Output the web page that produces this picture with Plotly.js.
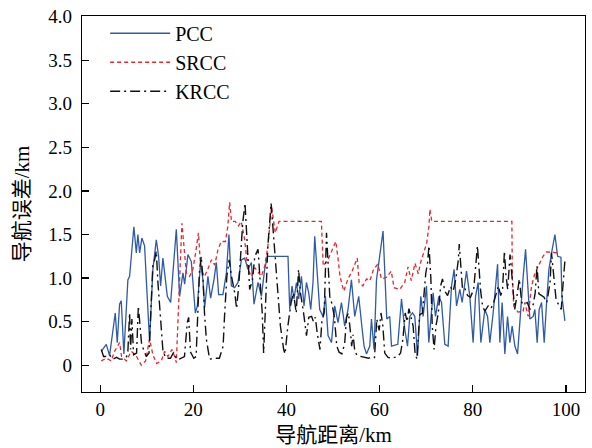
<!DOCTYPE html>
<html>
<head>
<meta charset="utf-8">
<script src="https://cdn.plot.ly/plotly-3.0.1.min.js"></script>
<style>html,body{margin:0;padding:0;background:#fff;}#chart{width:592px;height:448px;}</style>
</head>
<body>
<div id="chart"></div>
<script>
// PCC (blue, solid)
const pccX = [0.24,1.31,2.02,3.24,3.67,4.17,4.53,5.09,5.95,6.32,7.24,7.76,8.10,8.47,8.96,9.54,9.91,10.61,11.32,12.05,12.55,12.98,13.47,13.99,14.42,15.13,15.62,16.35,17.06,17.77,18.14,18.84,19.57,20.43,20.86,21.57,22.07,22.43,23.14,23.72,24.43,24.95,25.44,26.36,27.10,27.65,28.17,28.88,29.59,30.32,31.03,31.74,32.47,33.03,33.89,34.62,35.32,35.90,40.33,40.70,41.19,41.62,42.14,42.63,43.21,43.77,44.29,44.78,45.21,45.70,46.07,46.65,47.14,47.85,48.37,48.93,49.66,50.36,51.07,51.81,52.51,53.22,53.95,54.66,55.52,56.10,56.66,57.18,57.89,58.25,58.81,59.33,60.03,60.74,61.54,62.18,62.55,63.90,64.70,65.41,65.99,66.48,67.06,67.56,68.14,68.84,69.34,70.07,70.56,71.49,72.00,72.71,73.29,74.00,74.71,75.44,76.00,76.52,77.22,77.72,78.66,79.37,80.08,80.60,81.16,81.74,82.60,83.18,83.67,84.38,85.33,85.82,86.31,86.89,87.47,87.97,88.46,89.04,89.62,90.33,90.83,91.34,91.90,92.26,92.97,93.34,93.83,94.26,94.78,95.34,95.85,96.35,97.06,97.64,98.22,98.93,99.14,99.78];
const pccY = [0.16,0.24,0.11,0.60,0.26,0.70,0.74,0.13,0.98,1.02,1.59,1.29,1.50,1.29,1.46,1.37,0.98,0.28,1.10,1.44,1.25,0.91,1.23,0.98,0.79,0.72,1.10,1.56,0.79,1.06,0.93,1.27,1.19,0.60,0.68,1.18,0.98,0.66,1.02,0.77,0.98,1.18,0.81,0.81,1.06,1.50,0.91,0.89,0.95,1.21,1.23,1.10,1.18,0.70,0.95,0.79,1.10,1.25,1.25,0.64,0.91,0.76,0.95,0.76,1.02,0.68,0.95,0.83,0.64,0.95,1.48,1.02,0.64,0.56,0.79,0.34,0.26,0.68,0.49,0.72,0.45,0.64,0.98,0.56,0.79,0.49,0.22,0.13,0.22,0.53,0.18,0.98,1.29,1.54,0.53,0.56,0.22,0.24,0.76,0.41,0.22,0.56,0.60,0.56,0.11,0.79,0.56,0.91,0.26,0.83,0.56,0.79,0.72,0.24,0.22,0.91,1.10,0.68,0.87,0.72,1.08,0.79,0.26,0.79,0.95,0.26,0.64,0.56,0.26,0.60,1.16,0.26,0.72,0.13,0.56,0.26,0.45,0.22,0.13,0.72,1.02,1.33,0.79,0.53,0.56,0.64,0.26,0.64,0.72,0.26,0.72,1.10,1.33,1.50,1.25,1.24,0.79,0.51];

// SRCC (red, dotted)
const srccX = [0.24,1.31,2.39,3.09,4.17,4.60,5.61,6.68,7.60,8.83,9.75,10.61,11.32,12.12,13.13,13.84,14.55,15.41,15.99,16.35,17.55,18.50,19.20,19.90,20.50,21.10,21.60,22.40,23.10,23.90,24.60,25.30,26.00,26.90,27.40,27.80,28.20,29.00,29.70,30.30,31.00,31.70,32.50,33.20,34.60,35.30,36.00,36.80,37.60,38.40,47.50,47.90,48.90,49.90,50.60,51.10,51.50,52.30,53.20,54.10,55.20,55.60,56.40,57.20,57.90,58.70,59.60,60.40,61.50,62.50,63.10,64.30,65.40,66.10,66.80,67.60,68.30,68.80,69.50,70.10,70.60,70.80,71.20,88.40,88.50,88.80,89.70,90.80,91.20,91.90,92.60,93.30,94.00,95.10,95.80,98.30];
const srccY = [0.05,0.08,0.05,0.16,0.26,0.10,0.05,0.16,0.12,0.00,0.05,0.30,0.12,0.02,0.05,0.16,0.10,0.18,0.10,0.03,1.63,1.06,1.02,1.10,1.29,1.52,1.10,1.02,1.10,1.21,1.15,1.33,1.42,1.42,1.59,1.87,1.65,1.65,1.60,1.65,1.45,1.10,1.02,1.12,1.02,1.13,1.36,1.82,1.52,1.65,1.65,1.14,1.21,1.33,1.42,1.21,1.02,0.85,0.99,1.08,1.23,0.95,0.91,0.99,0.97,1.10,1.16,0.99,1.01,1.08,0.89,0.87,0.95,1.13,0.97,1.17,1.05,1.18,1.30,1.40,1.60,1.79,1.65,1.65,1.00,0.68,0.61,0.62,0.72,0.56,0.90,1.05,1.13,1.25,1.30,1.29];

// KRCC (black, dash-dot)
const krccX = [0.24,0.73,1.31,2.02,2.73,3.52,4.17,5.09,5.67,5.95,6.32,6.53,6.81,7.18,7.82,8.20,8.90,9.90,10.50,11.00,11.30,11.70,12.05,12.40,12.80,13.10,13.50,14.20,15.10,15.80,16.40,17.00,18.10,18.70,19.00,19.40,20.10,20.60,20.90,21.30,21.70,22.10,22.40,22.80,23.50,24.60,25.60,26.40,26.70,27.20,27.70,28.20,28.90,29.30,29.80,30.30,30.60,31.10,31.50,31.80,32.10,32.70,33.20,33.90,34.40,34.80,35.10,35.50,36.00,36.70,37.20,37.60,38.00,38.70,39.40,39.70,40.30,41.00,41.50,42.10,42.60,43.00,43.60,44.00,44.30,44.80,45.40,45.80,46.20,46.60,47.20,47.60,48.10,48.60,49.00,49.30,49.80,50.30,50.80,51.30,51.90,52.50,52.90,53.30,53.70,54.00,54.30,54.70,55.30,56.10,56.90,57.60,58.40,58.90,59.40,59.90,60.30,60.70,61.10,61.80,62.50,63.20,63.90,64.50,65.00,65.50,65.90,66.30,66.70,67.20,67.60,68.00,68.60,69.20,69.90,70.30,70.60,71.00,71.30,71.70,72.10,72.60,73.10,73.50,74.00,74.60,75.20,75.80,76.40,76.90,77.10,77.50,77.80,78.30,78.90,79.50,80.20,80.70,81.00,81.30,81.70,82.10,82.60,83.30,83.90,84.50,85.10,85.50,86.00,86.40,86.80,87.10,87.50,88.00,88.30,88.60,89.00,89.50,90.00,90.50,91.10,91.70,92.30,93.00,93.40,93.80,94.20,94.80,95.30,95.90,96.60,96.90,97.60,97.90,98.40,99.00,99.30,99.80];
const krccY = [0.18,0.10,0.10,0.12,0.07,0.09,0.07,0.07,0.10,0.16,0.60,0.18,0.53,0.12,0.14,0.68,0.24,0.10,0.14,0.79,1.14,1.21,1.31,0.95,0.64,0.35,0.15,0.08,0.08,0.15,0.07,0.07,0.10,0.49,0.55,0.15,0.08,0.10,0.53,1.06,1.25,0.98,0.60,0.30,0.07,0.08,0.08,0.22,0.56,1.02,1.21,1.02,0.83,0.65,0.95,1.33,1.63,1.86,1.44,1.05,0.87,0.98,1.25,1.33,0.95,0.60,0.14,0.72,1.36,1.86,1.48,1.20,0.91,0.45,0.18,0.13,0.45,0.72,0.83,0.60,1.10,0.83,0.63,0.45,0.34,0.55,0.56,0.50,0.55,0.37,0.18,0.50,0.60,1.52,1.02,0.79,0.70,0.55,0.22,0.15,0.13,0.25,0.55,0.60,0.40,0.22,0.35,0.15,0.11,0.10,0.09,0.08,0.10,0.09,0.53,0.40,0.60,0.45,0.14,0.09,0.08,0.09,0.10,0.14,0.30,0.60,0.50,0.65,0.55,0.45,0.15,0.07,0.58,0.60,1.05,1.18,1.37,1.00,0.45,0.18,0.45,0.60,0.91,0.99,0.85,0.80,0.90,0.85,1.00,1.21,1.39,1.10,0.87,0.88,0.80,0.78,0.87,1.18,1.37,1.15,0.85,0.68,0.62,0.68,0.65,0.72,0.85,0.91,0.80,0.87,1.31,1.05,0.87,1.27,1.10,0.87,0.64,0.80,0.99,0.72,0.70,0.72,0.64,0.70,0.83,1.14,0.82,0.80,0.78,0.72,0.95,1.29,0.90,0.75,0.70,0.64,0.87,1.21];

const seriesNames = ['PCC', 'SRCC', 'KRCC'];
const xTicks = [0, 20, 40, 60, 80, 100];
const yTickVals = [0, 0.5, 1.0, 1.5, 2.0, 2.5, 3.0, 3.5, 4.0];
const yTickText = ['0', '0.5', '1.0', '1.5', '2.0', '2.5', '3.0', '3.5', '4.0'];
const xTitle = '导航距离/km';
const yTitle = '导航误差/km';

const serif = 'Liberation Serif, Times New Roman, serif';
const cjk = 'Liberation Serif, Noto Sans CJK SC, serif';

const traces = [
  {x: pccX, y: pccY, name: seriesNames[0], type: 'scatter', mode: 'lines',
   line: {color: '#2f5aa8', width: 1.3}},
  {x: srccX, y: srccY, name: seriesNames[1], type: 'scatter', mode: 'lines',
   line: {color: '#e8262c', width: 1.3, dash: '4px,3px'}},
  {x: krccX, y: krccY, name: seriesNames[2], type: 'scatter', mode: 'lines',
   line: {color: '#111111', width: 1.4, dash: '10px,4px,2px,4px'}}
];

const axisCommon = {
  showgrid: false, zeroline: false, showline: true, linecolor: '#000', linewidth: 1.3,
  mirror: true, ticks: 'inside', ticklen: 7, tickwidth: 1.3, tickcolor: '#000',
  tickfont: {family: serif, size: 19, color: '#000'}
};

const layout = {
  width: 592, height: 448,
  margin: {l: 82, r: 7, t: 16, b: 56, pad: 0},
  paper_bgcolor: '#fff', plot_bgcolor: '#fff',
  showlegend: true,
  legend: {x: 0.046, y: 1.006, xanchor: 'left', yanchor: 'top', bgcolor: 'rgba(0,0,0,0)',
           borderwidth: 0, font: {family: serif, size: 20, color: '#000'},
           itemwidth: 60, tracegroupgap: 0},
  xaxis: Object.assign({}, axisCommon, {
    range: [-3.9, 104.1], tickvals: xTicks, ticktext: xTicks.map(String),
    title: {text: xTitle, font: {family: cjk, size: 21, color: '#000'}, standoff: 8}
  }),
  yaxis: Object.assign({}, axisCommon, {
    range: [-0.307, 4.008], tickvals: yTickVals, ticktext: yTickText,
    ticklabelstandoff: 5,
    title: {text: yTitle, font: {family: cjk, size: 21, color: '#000'}, standoff: 12}
  })
};

Plotly.newPlot('chart', traces, layout, {displayModeBar: false, staticPlot: true});
</script>
</body>
</html>
